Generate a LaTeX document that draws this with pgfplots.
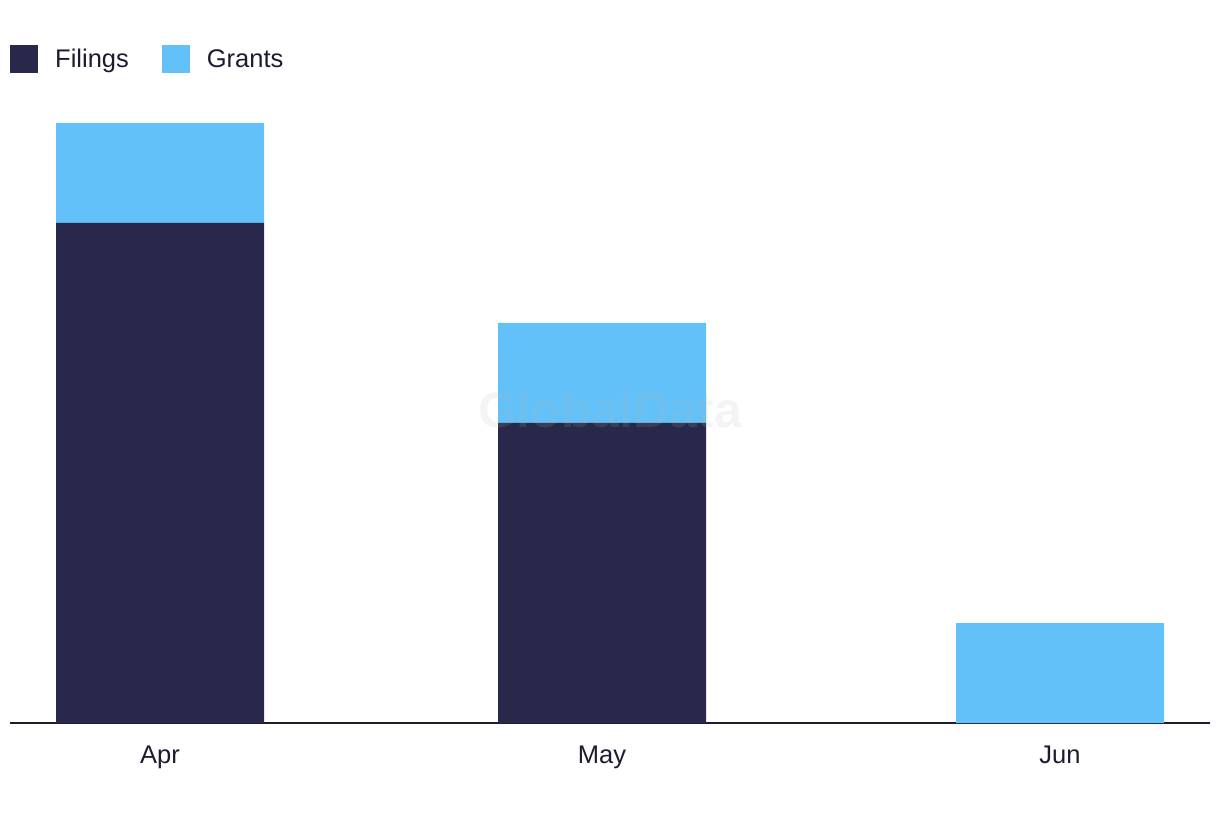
\documentclass[border=0pt]{standalone}
\usepackage{pgfplots}
\pgfplotsset{compat=1.18}
\usepackage{fontspec}
\setmainfont{Liberation Sans}
\definecolor{navy}{HTML}{27284A}
\definecolor{sky}{HTML}{62C1F9}
\definecolor{txt}{HTML}{1C1C30}
\definecolor{wm}{RGB}{180,180,180}
\begin{document}
\begin{tikzpicture}[x=1pt,y=1pt]
\useasboundingbox (0,0) rectangle (1220,822);
\begin{axis}[
  at={(10pt,99pt)}, anchor=south west,
  scale only axis, width=1200pt, height=700pt,
  xmin=10, xmax=1210, ymin=0, ymax=7,
  ybar stacked, bar width=208,
  axis x line*=bottom, hide y axis,
  x axis line style={txt, line width=1.6pt},
  xtick={160,602,1060}, xticklabels={Apr,May,Jun},
  major tick length=0pt,
  xticklabel style={font=\fontsize{25.5}{30}\selectfont, text=txt, inner sep=0pt, yshift=-23pt},
  legend style={at={(0,0.9686)}, anchor=north west, draw=none, fill=none, inner sep=0pt,
    font=\fontsize{25.5}{30}\selectfont, text=txt, legend columns=-1,
    /tikz/every even column/.append style={column sep=33pt},
    nodes={inner sep=0pt, anchor=west}},
  legend image code/.code={\fill[#1] (0pt,-14pt) rectangle (28pt,14pt);},
  legend cell align=left,
]
\addplot[fill=navy, draw=none] coordinates {(160,5) (602,3) (1060,0)};
\addlegendentry{\hspace{17pt}Filings}
\addplot[fill=sky, draw=none] coordinates {(160,1) (602,1) (1060,1)};
\addlegendentry{\hspace{17pt}Grants}
\end{axis}
\node[text=wm, text opacity=0.15, font=\fontsize{50}{56}\selectfont\bfseries] at (610,412) {GlobalData};
\end{tikzpicture}
\end{document}
